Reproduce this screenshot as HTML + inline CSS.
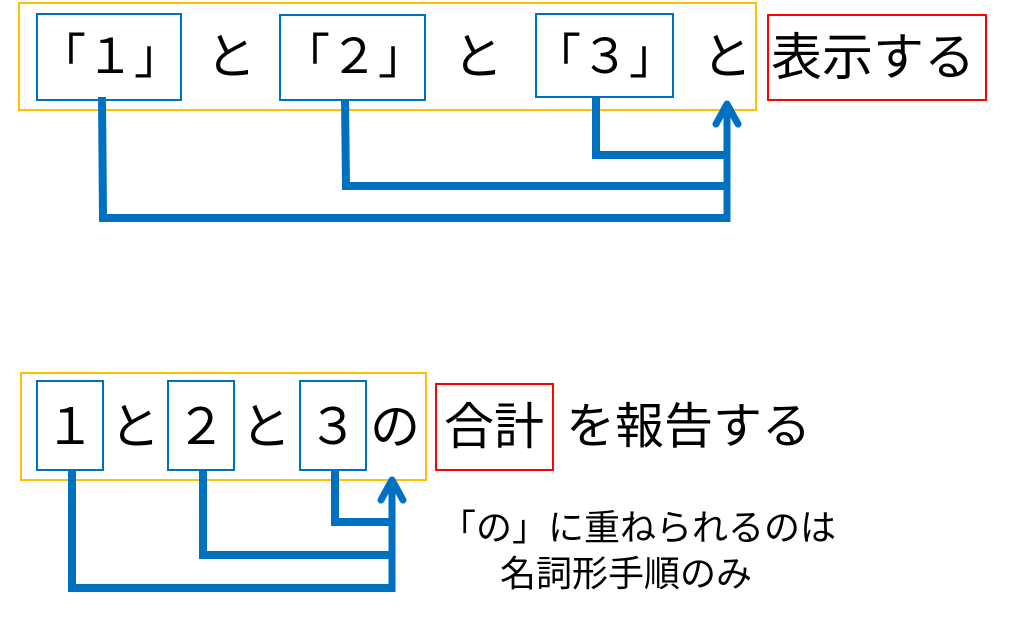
<!DOCTYPE html>
<html><head><meta charset="utf-8"><style>
body{margin:0;width:1024px;height:624px;background:#fff;overflow:hidden;position:relative;font-family:"Liberation Sans","Noto Sans CJK JP",sans-serif;}
.b{position:absolute;box-sizing:border-box}
.t{position:absolute;font-size:50px;line-height:1;color:#000;white-space:nowrap;font-family:"Noto Sans CJK JP",sans-serif}
</style></head><body>
<div class="b" style="left:18px;top:2px;width:739px;height:109px;border:2px solid #ffc000"></div>
<div class="b" style="left:36px;top:13px;width:146px;height:88px;border:2px solid #0070c0"></div>
<div class="b" style="left:279px;top:14px;width:147px;height:87px;border:2px solid #0070c0"></div>
<div class="b" style="left:535px;top:13px;width:139px;height:85px;border:2px solid #0070c0"></div>
<div class="b" style="left:767px;top:14px;width:220px;height:87px;border:2px solid #ff0000"></div>
<div class="t" style="left:38px;top:28px;font-size:48px">「１」</div>
<div class="t" style="left:206px;top:28px">と</div>
<div class="t" style="left:282px;top:28px;font-size:48px">「２」</div>
<div class="t" style="left:453px;top:28px">と</div>
<div class="t" style="left:533px;top:28px;font-size:48px">「３」</div>
<div class="t" style="left:702px;top:28px">と</div>
<div class="t" style="left:771px;top:28px;font-size:51px">表示する</div>

<div class="b" style="left:20px;top:372px;width:407px;height:109px;border:2px solid #ffc000"></div>
<div class="b" style="left:36px;top:380px;width:68px;height:91px;border:2px solid #0070c0"></div>
<div class="b" style="left:167px;top:380px;width:68px;height:91px;border:2px solid #0070c0"></div>
<div class="b" style="left:299px;top:380px;width:68px;height:91px;border:2px solid #0070c0"></div>
<div class="b" style="left:435px;top:383px;width:119px;height:88px;border:2px solid #ff0000"></div>
<div class="t" style="left:45px;top:398px">１</div>
<div class="t" style="left:110px;top:398px">と</div>
<div class="t" style="left:176px;top:398px">２</div>
<div class="t" style="left:241px;top:398px">と</div>
<div class="t" style="left:308px;top:398px">３</div>
<div class="t" style="left:370px;top:398px">の</div>
<div class="t" style="left:444px;top:398px">合計</div>
<div class="t" style="left:566px;top:398px;font-size:49px">を報告する</div>
<div class="t" style="left:440px;top:507px;font-size:36px">「の」に重ねられるのは</div>
<div class="t" style="left:500px;top:553px;font-size:36px">名詞形手順のみ</div>

<svg width="1024" height="624" style="position:absolute;left:0;top:0">
<g fill="none" stroke="#0070c0" stroke-linejoin="miter">
<polyline points="102,97 103,218 727,218" stroke-width="8"/>
<polyline points="345,100 346,186 727,186" stroke-width="8"/>
<polyline points="596,98 596,155 727,155" stroke-width="8"/>
<line x1="727" y1="222" x2="727" y2="104" stroke-width="7"/>
<polyline points="716,124 727,104 738,124" stroke-width="7" stroke-linecap="round" stroke-linejoin="round"/>
<polyline points="72,470 72,588 393,588" stroke-width="8"/>
<polyline points="203,470 203,555 393,555" stroke-width="8"/>
<polyline points="335,470 335,522 393,522" stroke-width="8"/>
<line x1="392" y1="592" x2="392" y2="480" stroke-width="7"/>
<polyline points="381,500 392,480 403,500" stroke-width="7" stroke-linecap="round" stroke-linejoin="round"/>
</g></svg>
</body></html>
